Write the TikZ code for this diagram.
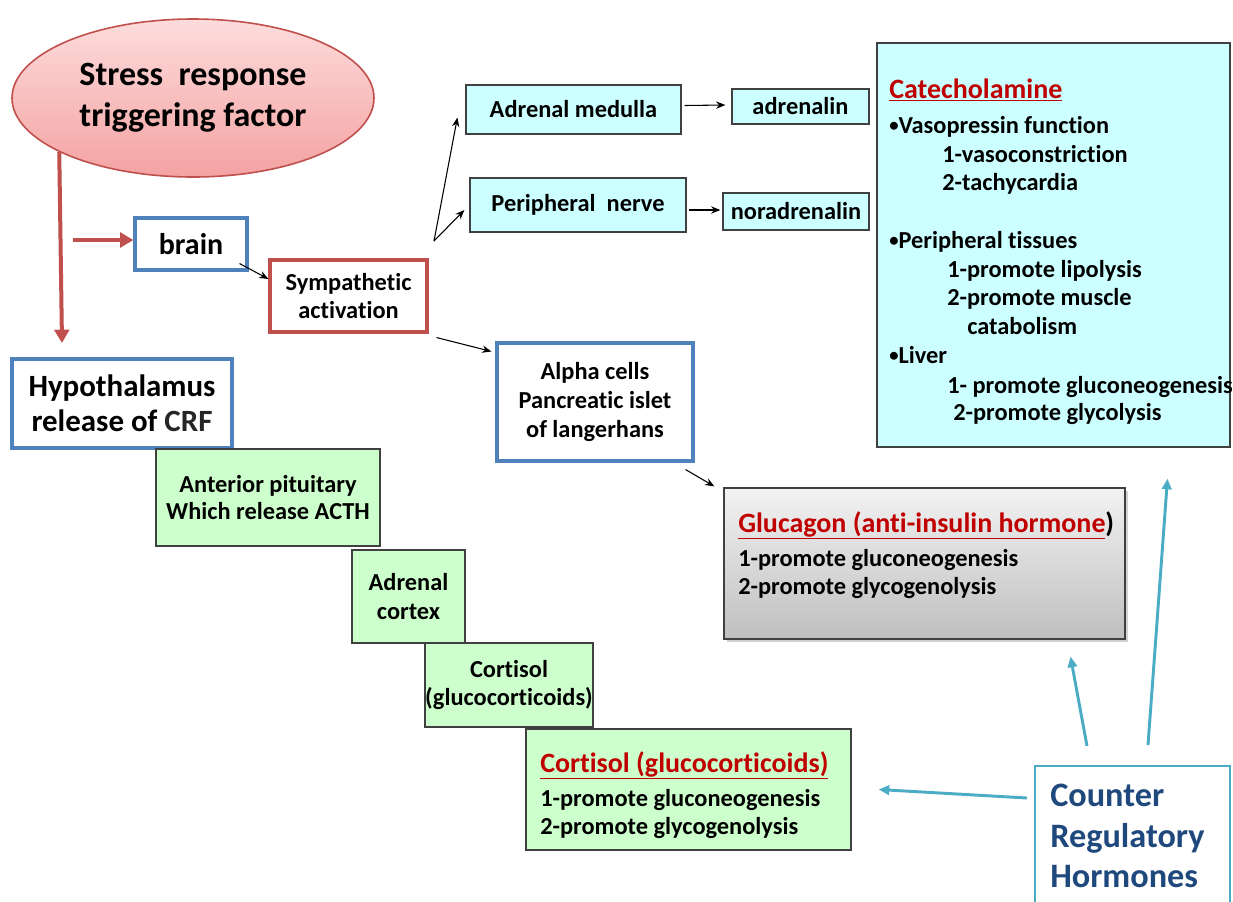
\documentclass[tikz,border=0pt]{standalone}
\usepackage{fontspec}
\setmainfont{Carlito}[Ligatures=NoCommon]
\usetikzlibrary{arrows.meta,shapes.geometric,calc,shadows}
\definecolor{redb}{HTML}{C0504D}
\definecolor{blueb}{HTML}{4F81BD}
\definecolor{cyanf}{HTML}{CCFFFF}
\definecolor{greenf}{HTML}{CCFFCC}
\definecolor{darkb}{HTML}{404040}
\definecolor{redt}{HTML}{C00000}
\definecolor{tealb}{HTML}{4BACC6}
\definecolor{navyt}{HTML}{1F497D}
\definecolor{pinktop}{HTML}{FDDCDC}
\definecolor{pinkbot}{HTML}{F4A2A2}
\newcommand{\bul}{{\fontsize{14}{14}\selectfont\raisebox{0.8pt}{•}}}
\begin{document}
\begin{tikzpicture}[x=0.75pt,y=-0.75pt,
  sz/.style 2 args={minimum width=#1*0.75pt,minimum height=#2*0.75pt},
  f17/.style={font=\bfseries\fontsize{18.3}{21.5}\selectfont},
  f20/.style={font=\bfseries\fontsize{21}{25}\selectfont},
  box/.style={draw=darkb,line width=0.9pt,inner sep=0pt,align=center,f17},
  cyanbox/.style={box,fill=cyanf},
  greenbox/.style={box,fill=greenf},
  bluebox/.style={draw=blueb,line width=2.3pt,fill=white,inner sep=0pt,align=center},
  redbox/.style={draw=redb,line width=2.3pt,fill=white,inner sep=0pt,align=center},
  line/.style={anchor=base west,inner sep=0pt,f17},
  title/.style={anchor=base west,inner sep=0pt,f20},
  hline/.style={anchor=base west,inner sep=0pt,text=navyt,font=\bfseries\fontsize{25.7}{31}\selectfont},
  blk/.style={draw=black,line width=0.8pt,-{Stealth[length=7pt,width=5.5pt]}},
  redarr/.style={draw=redb,line width=3pt,-{Triangle[length=10pt,width=11pt]}},
  tealarr/.style={draw=tealb,line width=2.2pt,-{Triangle[length=8pt,width=7pt]}}
]
\clip (0,0) rectangle (1233,901);
\fill[white] (0,0) rectangle (1233,901);

% ---- nodes ----
\node[ellipse,draw=redb,line width=1.2pt,top color=pinktop,bottom color=pinkbot,
  sz={362}{158},inner sep=0pt,align=center,
  font=\bfseries\fontsize{25.5}{31}\selectfont] (stress) at (193,98)
  {Stress~~response\\triggering factor};

\node[bluebox,sz={112}{52},font=\bfseries\fontsize{22.5}{26}\selectfont] (brain) at (191,244) {brain};
\node[redbox,sz={157}{72},f17] (symp) at (348.5,296) {Sympathetic\\activation};

\node[cyanbox,sz={215}{49}] (adrmed) at (573.5,109.5) {Adrenal medulla};
\node[cyanbox,sz={216}{54}] (pnerve) at (578,205) {Peripheral~~nerve};
\node[cyanbox,sz={137}{35}] (adrenalin) at (800.5,106.5) {adrenalin};
\node[cyanbox,sz={146}{37}] (noradr) at (796,211.5) {noradrenalin};

\node[cyanbox,sz={353}{404}] (cat) at (1053.5,245) {};
\node[title] (c1) at (889,98) {\textcolor{redt}{\underline{Catecholamine}}};
\node[line] (c2) at (889,133) {\bul Vasopressin function};
\node[line] (c3) at (942,162) {1-vasoconstriction};
\node[line] (c4) at (942,190) {2-tachycardia};
\node[line] (c5) at (889,248) {\bul Peripheral tissues};
\node[line] (c6) at (947,277) {1-promote lipolysis};
\node[line] (c7) at (947,305) {2-promote muscle};
\node[line] (c8) at (967,334) {catabolism};
\node[line] (c9) at (889,363) {\bul Liver};
\node[line] (c10) at (947,393) {1- promote gluconeogenesis};
\node[line] (c11) at (953,420) {2-promote glycolysis};

\node[bluebox,sz={220}{89},font=\bfseries\fontsize{23.2}{26.5}\selectfont] (hypo) at (122,403.5)
  {Hypothalamus\\release of \textcolor[HTML]{262626}{CRF}};
\node[greenbox,sz={224}{97},font=\bfseries\fontsize{18.3}{20.5}\selectfont] (antpit) at (268,497.5)
  {Anterior pituitary\\Which release ACTH};
\node[greenbox,sz={113}{93}] (adrcor) at (408.5,596.5) {Adrenal\\cortex};
\node[greenbox,sz={168}{84}] (cort1) at (509,685) {Cortisol\\(glucocorticoids)};

\node[greenbox,sz={325}{121}] (cort2) at (688.5,789.5) {};
\node[title] (k1) at (540,772) {\textcolor{redt}{\underline{Cortisol (glucocorticoids)}}};
\node[line] (k2) at (540,806) {1-promote gluconeogenesis};
\node[line] (k3) at (540,834) {2-promote glycogenolysis};

\node[bluebox,sz={196}{118},font=\bfseries\fontsize{18.3}{21.4}\selectfont] (alpha) at (595,402)
  {Alpha cells\\Pancreatic islet\\of langerhans};

\node[draw=darkb,line width=0.9pt,top color=white!95!black,bottom color=black!25,
  drop shadow={shadow xshift=2.5pt,shadow yshift=-2.5pt,opacity=0.35},
  sz={401}{151},inner sep=0pt] (gluc) at (924.5,563.5) {};
\node[title] (g1) at (738,532) {\textcolor{redt}{\underline{Glucagon (anti-insulin hormone}})};
\node[line] (g2) at (738,566) {1-promote gluconeogenesis};
\node[line] (g3) at (738,594) {2-promote glycogenolysis};

\node[draw=tealb,line width=2.2pt,fill=white,sz={195}{170},inner sep=0pt] (counter) at (1132.5,851) {};
\node[hline] (h1) at (1050,806) {Counter};
\node[hline] (h2) at (1050,847) {Regulatory};
\node[hline] (h3) at (1050,887) {Hormones};

% ---- connectors ----
\coordinate (hypoin) at (62,343);
\draw[redarr] (stress.202.6) -- (hypoin);
\coordinate (bf) at (73,240);
\draw[redarr] (bf) -- (bf -| brain.west);

\draw[blk] ($(brain.south east)+(-9,-8)$) -- ($(symp.west)+(0,-17)$);
\coordinate (fork) at (434,241);
\draw[blk] (fork) -- ($(adrmed.west)+(-8,8)$);
\draw[blk] (fork) -- ($(pnerve.west)+(-5,5)$);
\draw[blk] ($(adrmed.east)+(3,-4)$) -- ($(adrenalin.west)+(-6,-1.5)$);
\draw[blk] ($(pnerve.east)+(2,5)$) -- ($(noradr.west)+(-2,-1.5)$);
\draw[blk] ($(symp.south east)+(8,4)$) -- ($(alpha.north west)+(-4,10)$);
\draw[blk] ($(alpha.south east)+(-9,7)$) -- ($(gluc.north west)+(-9,-1)$);

\coordinate (t1) at (1027,798);
\coordinate (t2) at (1087,746);
\coordinate (t3) at (1148,745);
\draw[tealarr] (t1) -- ($(cort2.east)+(27,0)$);
\draw[tealarr] (t2) -- ($(gluc.south)+(146,17)$);
\draw[tealarr] (t3) -- ($(cat.south)+(114,31)$);
\end{tikzpicture}
\end{document}
